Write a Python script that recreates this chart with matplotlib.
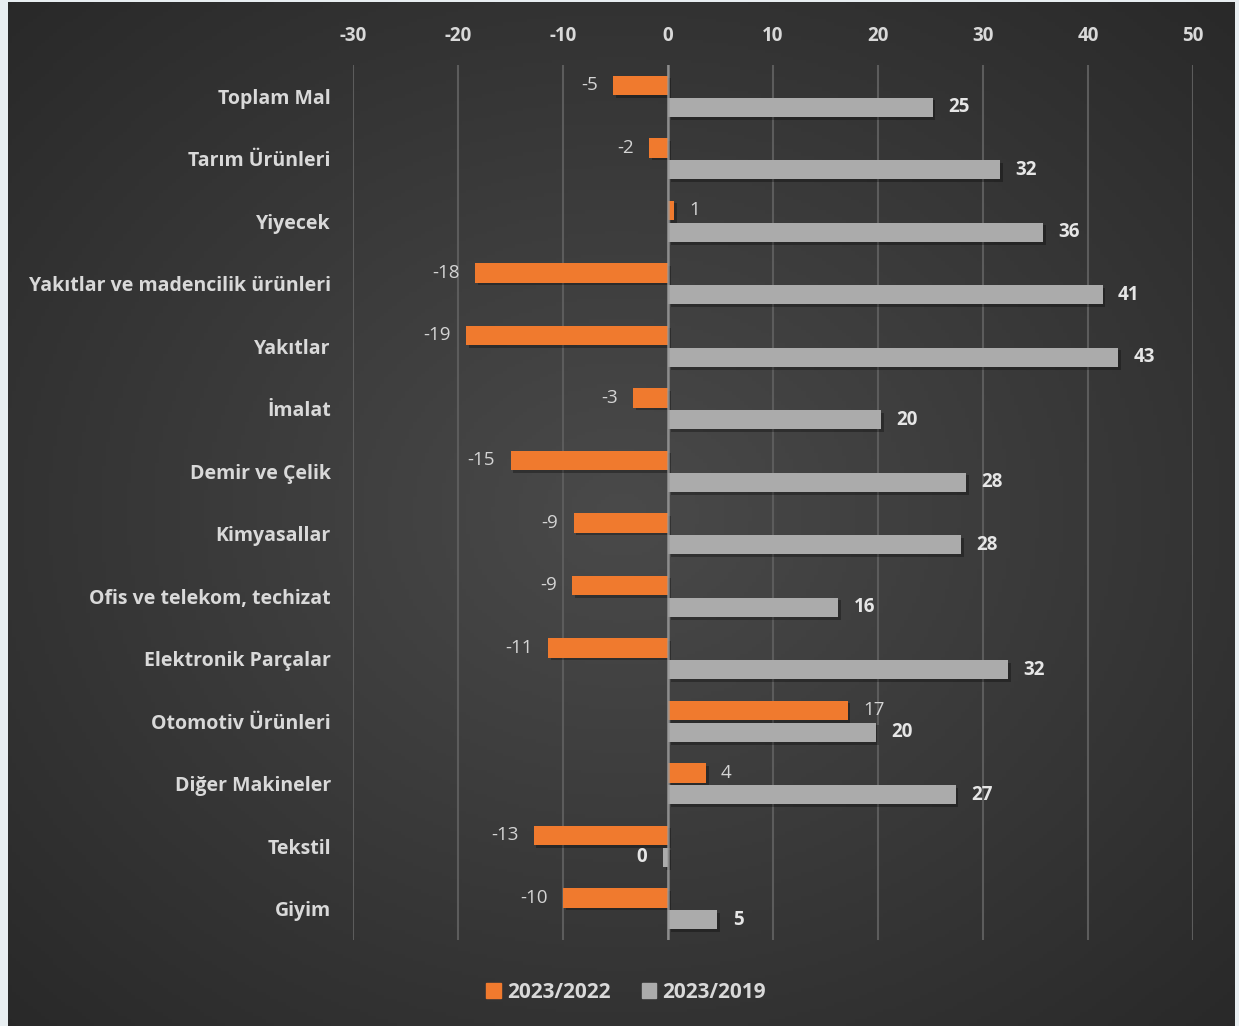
import numpy as np
import matplotlib
matplotlib.use("Agg")
import matplotlib.pyplot as plt
import matplotlib.patheffects as pe
from matplotlib.patches import Rectangle

categories = ["Toplam Mal", "Tarım Ürünleri", "Yiyecek", "Yakıtlar ve madencilik ürünleri",
              "Yakıtlar", "İmalat", "Demir ve Çelik", "Kimyasallar",
              "Ofis ve telekom, techizat", "Elektronik Parçalar", "Otomotiv Ürünleri",
              "Diğer Makineler", "Tekstil", "Giyim"]
v_2022 = [-5.2, -1.8, 0.6, -18.4, -19.2, -3.3, -15.0, -9.0, -9.1, -11.4, 17.1, 3.6, -12.8, -10.0]
v_2019 = [25.2, 31.6, 35.7, 41.4, 42.9, 20.3, 28.4, 27.9, 16.2, 32.4, 19.8, 27.4, -0.5, 4.7]
series_names = ["2023/2022", "2023/2019"]
xticks = [-30, -20, -10, 0, 10, 20, 30, 40, 50]

plt.rcParams['font.family'] = ['Open Sans', 'DejaVu Sans']

W, H = 1239, 1026
fig = plt.figure(figsize=(W / 100, H / 100), dpi=100)
fig.patch.set_facecolor("#e8eef1")

# gradient background (radial, lighter in the middle)
bg = fig.add_axes([8 / W, 0, (1235 - 8) / W, 1 - 2 / H], zorder=-10)
yy, xx = np.mgrid[0:1:300j, 0:1:300j]
r = np.sqrt((xx - 0.5) ** 2 + (yy - 0.5) ** 2) / np.sqrt(0.5)
shade = 0.29 - 0.13 * r
bg.imshow(np.dstack([shade] * 3), aspect="auto", extent=[0, 1, 0, 1])
bg.axis("off")

ax = fig.add_axes([353 / W, 1 - 940 / H, (1193 - 353) / W, (940 - 65) / H])
ax.set_facecolor("none")

y = np.arange(len(categories))
h = 0.31
off = 0.175
orange = "#f07a2e"
grey = "#ababab"
shadow = [pe.SimplePatchShadow(offset=(2, -2), shadow_rgbFace="black", alpha=0.3), pe.Normal()]

b1 = ax.barh(y - off, v_2022, height=h, color=orange, zorder=3, label=series_names[0])
b2 = ax.barh(y + off, v_2019, height=h, color=grey, zorder=3, label=series_names[1])
for b in list(b1) + list(b2):
    b.set_path_effects(shadow)

for yi, v in zip(y, v_2022):
    ax.annotate(f"{int(round(v))}", (v, yi - off), xytext=(11 if v >= 0 else -11, 0),
                textcoords="offset points", va="center", ha="left" if v >= 0 else "right",
                fontsize=13.5, color="#d4d4d4")
for yi, v in zip(y, v_2019):
    ax.annotate(f"{int(round(v))}", (v, yi + off), xytext=(11 if v >= 0 else -11, 0),
                textcoords="offset points", va="center", ha="left" if v >= 0 else "right",
                fontsize=13.5, color="#e6e6e6", fontweight="bold")

ax.set_xlim(-30, 50)
ax.set_ylim(len(categories) - 0.5, -0.5)
ax.set_xticks(xticks)
ax.set_xticklabels([str(t) for t in xticks])
ax.xaxis.tick_top()
ax.set_yticks(y)
ax.set_yticklabels(categories)
ax.tick_params(axis="x", length=0, pad=14, labelsize=13.5, labelcolor="#d9d9d9")
ax.tick_params(axis="y", length=0, pad=16, labelsize=14, labelcolor="#d9d9d9")
for lab in ax.get_xticklabels() + ax.get_yticklabels():
    lab.set_fontweight("bold")

ax.grid(axis="x", color="#5c5c5c", lw=1.5, zorder=0)
ax.axvline(0, color="#9a9a9a", lw=1.8, alpha=0.8, zorder=4)
for s in ax.spines.values():
    s.set_visible(False)

handles = [Rectangle((0, 0), 1, 1, color=orange), Rectangle((0, 0), 1, 1, color=grey)]
leg = fig.legend(handles, series_names, loc="center", bbox_to_anchor=(626 / W, 1 - 992 / H),
                 ncol=2, frameon=False, handlelength=0.7, handleheight=0.7, handletextpad=0.3,
                 columnspacing=1.5, prop={"weight": "bold", "size": 15})
for t in leg.get_texts():
    t.set_color("#d9d9d9")

fig.savefig("out.png", dpi=100)
